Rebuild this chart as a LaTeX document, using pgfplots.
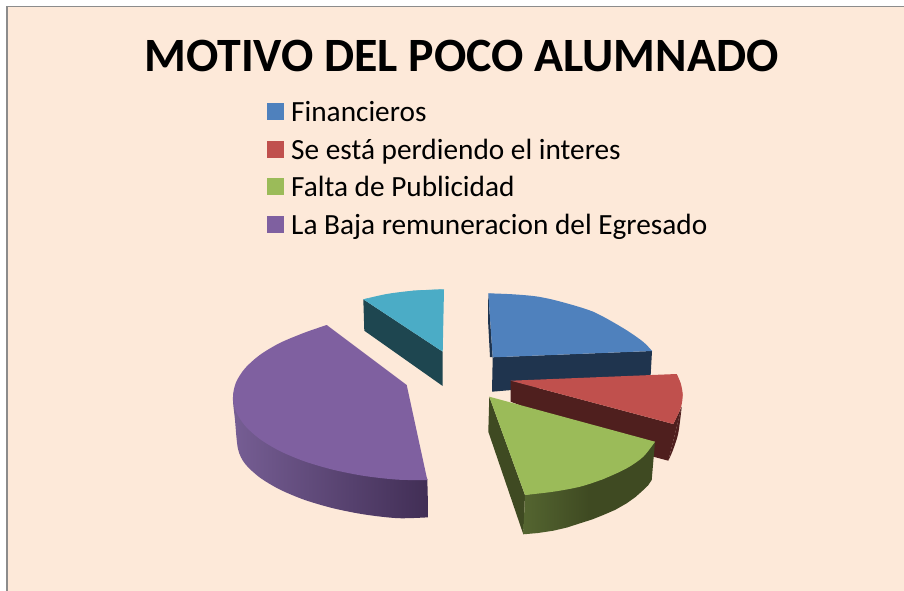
\documentclass[border=0pt]{standalone}
\usepackage{pgfplots}
\pgfplotsset{compat=1.18}
\usepackage{fontspec}
\setmainfont{Carlito}
\definecolor{bgc}{HTML}{FDE9D9}
\definecolor{framec}{HTML}{8C8C8C}
\definecolor{blue1}{HTML}{4F81BD}
\definecolor{blue2}{HTML}{1F344E}
\definecolor{red1}{HTML}{C0504D}
\definecolor{red2}{HTML}{4F1F1E}
\definecolor{green1}{HTML}{9BBB59}
\definecolor{green2}{HTML}{3F4A22}
\definecolor{green3}{HTML}{546530}
\definecolor{purple1}{HTML}{7F60A0}
\definecolor{purple2}{HTML}{765E94}
\definecolor{purple3}{HTML}{412E55}
\definecolor{teal1}{HTML}{4BACC6}
\definecolor{teal2}{HTML}{1E4650}
\begin{document}
\begin{tikzpicture}
\begin{axis}[
  width=904bp, height=591bp, scale only axis,
  xmin=0, xmax=904, ymin=0, ymax=591, y dir=reverse,
  hide axis,
  legend cell align=left,
  legend image code/.code={\fill[#1, draw=none] (0bp,-5bp) rectangle (17bp,12bp);},
  legend style={
    draw=none, fill=none, at={(axis cs:267,98.5)}, anchor=north west,
    row sep=4.6bp, column sep=4bp, inner sep=0pt,
    nodes={font=\fontsize{29.4}{29.4}\selectfont, text height=20bp, text depth=7bp, inner sep=3bp},
  },
  every axis plot/.append style={forget plot, draw=none},
]
% background and frame
\addplot[fill=white] coordinates {(0,0) (904,0) (904,591) (0,591)} --cycle;
\addplot[draw=framec, line width=1.5bp, fill=bgc] coordinates {(7,6.7) (915,6.7) (915,600) (7,600)} --cycle;

% legend
\addlegendimage{fill=blue1}\addlegendentry{Financieros}
\addlegendimage{fill=red1}\addlegendentry{Se está perdiendo el interes}
\addlegendimage{fill=green1}\addlegendentry{Falta de Publicidad}
\addlegendimage{fill=purple1}\addlegendentry{La Baja remuneracion del Egresado}

% each top face: a straight part, then the rim as a smooth open path
% Financieros
\addplot[fill=blue2] coordinates {(492.7,357.3) (652,351) (650.5,378) (492,391.7)} --cycle;
\addplot[fill=blue2] coordinates {(488.3,293.3) (492.7,357.3) (490,357) (488,320)} --cycle;
\addplot[fill=blue1] coordinates {(488.3,293.3) (593,311.7) (652,351) (492.7,357.3)} --cycle;
\addplot[fill=blue1, smooth] coordinates {(488.3,293.3) (513,294.3) (537,296.5) (560,301.5) (593,311.7) (623,328) (643,341.7) (652,351)};

% Se está perdiendo el interes
\addplot[fill=red2] coordinates {(510.7,380.7) (673.3,424) (681.7,406.7) (668.3,460.7) (653.3,456.7) (510.7,401.7)} --cycle;
\addplot[fill=red2, smooth] coordinates {(681.7,406.7) (678.3,433) (673,450) (668.3,460.7)};
\addplot[fill=red1] coordinates {(510.7,380.7) (676.7,374) (682.7,395) (673.3,424)} --cycle;
\addplot[fill=red1, smooth] coordinates {(676.7,374) (680.7,383.3) (682.7,395) (680.7,408) (673.3,424)};

% Falta de Publicidad
\addplot[fill=green2] coordinates {(489.3,396.7) (525,495) (523.3,534.3) (488.3,431.7)} --cycle;
\addplot[left color=green3, right color=green2, middle color=green2] coordinates {(525,495) (603.3,479) (655,441.7) (651.7,480) (648,485.5) (643.3,490) (635.5,497) (626.7,503.3) (615.5,509.7) (603.3,515) (592,519.5) (580,523.3) (567,527.5) (553.3,530.7) (538,533) (523.3,534.3)} --cycle;
\addplot[fill=green1] coordinates {(489.3,396.7) (655,441.7) (603.3,479) (525,495)} --cycle;
\addplot[fill=green1, smooth] coordinates {(655,441.7) (643.3,456.7) (626.7,468.3) (603.3,479) (580,486.7) (553.3,491.7) (525,495)};

% slice without a legend entry
\addplot[fill=teal2] coordinates {(363.3,299.3) (442.7,351.7) (442.7,386) (364.3,330.7)} --cycle;
\addplot[fill=teal1] coordinates {(363.3,299.3) (413.3,290.7) (444,289.3) (442.7,351.7)} --cycle;
\addplot[fill=teal1, smooth] coordinates {(363.3,299.3) (386.7,294) (413.3,290.7) (444,289.3)};

% La Baja remuneracion del Egresado
\addplot[left color=purple2, right color=purple3, smooth] coordinates {(428.3,517.3) (398.3,518.2) (364.6,514.5) (333,508.2) (304.4,499.8) (279.8,489.5) (259.8,477.5) (245,463.7) (238,449) (235,420) (233,397) (238,384) (255,375) (350,400) (427.3,479)};
\addplot[fill=purple1] coordinates {(326.7,325) (406.7,385) (427.3,480) (330,440)} --cycle;
\addplot[fill=purple1, smooth] coordinates {(427.3,480) (398.3,479.7) (364.6,476) (333,469.7) (304.4,461.3) (279.8,451) (259.8,439) (245,425.7) (236,411.6) (233,397) (236,382.4) (245,368.3) (259.8,355) (279.8,343) (304.4,332.7) (326.7,325)};

\node[anchor=base, font=\fontsize{48}{48}\selectfont\bfseries] at (axis cs:461.5,72) {MOTIVO DEL POCO ALUMNADO};
\end{axis}
\end{tikzpicture}
\end{document}
